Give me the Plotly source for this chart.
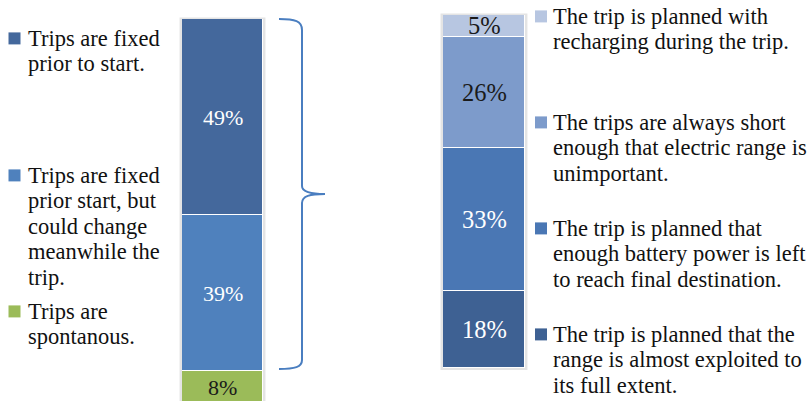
import plotly.graph_objects as go

W, H = 810, 401

# ---------------- data ----------------
left_category = "Trip planning"
left_labels = ["Trips are spontanous.",
               "Trips are fixed prior start, but could change meanwhile the trip.",
               "Trips are fixed prior to start."]          # bottom -> top
left_values = [8, 39, 49]
left_colors = ["#9BBB59", "#4F81BD", "#44689C"]
left_text_colors = ["#1A1A1A", "#FFFFFF", "#FFFFFF"]
left_legend_lines = [["Trips are fixed", "prior to start."],
                     ["Trips are fixed", "prior start, but", "could change", "meanwhile the", "trip."],
                     ["Trips are", "spontanous."]]          # top -> bottom (legend order)

right_category = "Range planning"
right_labels = ["The trip is planned that the range is almost exploited to its full extent.",
                "The trip is planned that enough battery power is left to reach final destination.",
                "The trips are always short enough that electric range is unimportant.",
                "The trip is planned with recharging during the trip."]  # bottom -> top
right_values = [18, 33, 26, 5]
right_colors = ["#3E6193", "#4A77B4", "#7D9BCB", "#B7C6E1"]
right_text_colors = ["#FFFFFF", "#FFFFFF", "#1A1A1A", "#1A1A1A"]
right_legend_lines = [["The trip is planned with", "recharging during the trip."],
                      ["The trips are always short", "enough that electric range is", "unimportant."],
                      ["The trip is planned that", "enough battery power is left", "to reach final destination."],
                      ["The trip is planned that the", "range is almost exploited to", "its full extent."]]

FONT = "Liberation Serif, Times New Roman, serif"

def px(x):
    return x / W

def py(y):
    return 1 - y / H

fig = go.Figure()

for lab, v, c in zip(left_labels, left_values, left_colors):
    fig.add_trace(go.Bar(x=[left_category], y=[v], name=lab, marker=dict(color=c, line=dict(color="white", width=1.5)),
                         xaxis="x", yaxis="y", showlegend=False, hoverinfo="skip"))
for lab, v, c in zip(right_labels, right_values, right_colors):
    fig.add_trace(go.Bar(x=[right_category], y=[v], name=lab, marker=dict(color=c, line=dict(color="white", width=1.5)),
                         xaxis="x2", yaxis="y2", showlegend=False, hoverinfo="skip"))

annotations = []
# value labels centred in each segment
base = 0
for v, tc in zip(left_values, left_text_colors):
    annotations.append(dict(x=left_category, y=base + v / 2, xref="x", yref="y", text=f"{v}%", showarrow=False,
                            font=dict(family=FONT, size=22, color=tc)))
    base += v
base = 0
for v, tc in zip(right_values, right_text_colors):
    annotations.append(dict(x=right_category, y=base + v / 2, xref="x2", yref="y2", text=f"{v}%", showarrow=False,
                            font=dict(family=FONT, size=24.5, color=tc)))
    base += v

shapes = []
# legends
def add_legend(lines_list, colors_top_down, text_x, sq_x, first_baselines, spacing, size):
    for lines, col, b0 in zip(lines_list, colors_top_down, first_baselines):
        for i, line in enumerate(lines):
            cy = b0 + i * spacing - 0.3375 * size
            annotations.append(dict(x=px(text_x), y=py(cy), xref="paper", yref="paper", text=line,
                                    showarrow=False, xanchor="left", yanchor="middle",
                                    font=dict(family=FONT, size=size, color="#111111")))
        cy0 = b0 - 0.3375 * size
        shapes.append(dict(type="rect", xref="paper", yref="paper",
                           x0=px(sq_x), x1=px(sq_x + 12), y0=py(cy0 - 6), y1=py(cy0 + 6),
                           fillcolor=col, line=dict(width=0)))

add_legend(left_legend_lines, left_colors[::-1], 26, 8.5, [46, 183, 319], 25.5, 22.5)
add_legend(right_legend_lines, right_colors[::-1], 551, 535, [24, 130, 236, 342], 25.3, 22.5)

# bar shadows
for xr in ["x domain", "x2 domain"]:
    pass
shapes.append(dict(type="rect", xref="x domain", yref="paper", x0=-0.03, x1=1.03, y0=py(402), y1=py(17.5),
                   fillcolor="#E4E4E4", line=dict(width=0), layer="below"))
shapes.append(dict(type="rect", xref="x2 domain", yref="paper", x0=-0.03, x1=1.03, y0=py(370), y1=py(13.5),
                   fillcolor="#E4E4E4", line=dict(width=0), layer="below"))

# curly brace
pts = [(279, 19), (295, 19), (302, 21), (302, 30), (302, 186), (302, 192), (310, 194), (325, 194),
       (310, 194), (302, 196), (302, 203), (302, 360), (302, 367), (295, 369), (279, 369)]
P = [f"{px(x):.5f},{py(y):.5f}" for x, y in pts]
path = (f"M {P[0]} C {P[1]} {P[2]} {P[3]} L {P[4]} C {P[5]} {P[6]} {P[7]} "
        f"C {P[8]} {P[9]} {P[10]} L {P[11]} C {P[12]} {P[13]} {P[14]}")
shapes.append(dict(type="path", xref="paper", yref="paper", path=path,
                   line=dict(color="#4A7EC0", width=2)))

axis_off = dict(showgrid=False, zeroline=False, showticklabels=False, showline=False, ticks="")
fig.update_layout(
    width=W, height=H, autosize=False,
    margin=dict(l=0, r=0, t=0, b=0),
    paper_bgcolor="white", plot_bgcolor="rgba(0,0,0,0)",
    barmode="stack", bargap=0,
    xaxis=dict(domain=[px(182), px(263)], range=[-0.5, 0.5], **axis_off),
    yaxis=dict(domain=[0, py(19)], range=[0.5, 96], **axis_off),
    xaxis2=dict(domain=[px(443), px(525)], range=[-0.5, 0.5], anchor="y2", **axis_off),
    yaxis2=dict(domain=[py(368), py(15)], range=[0, 82], anchor="x2", **axis_off),
    annotations=annotations, shapes=shapes, showlegend=False,
)

fig.write_html("out.html", config={"displayModeBar": False})
